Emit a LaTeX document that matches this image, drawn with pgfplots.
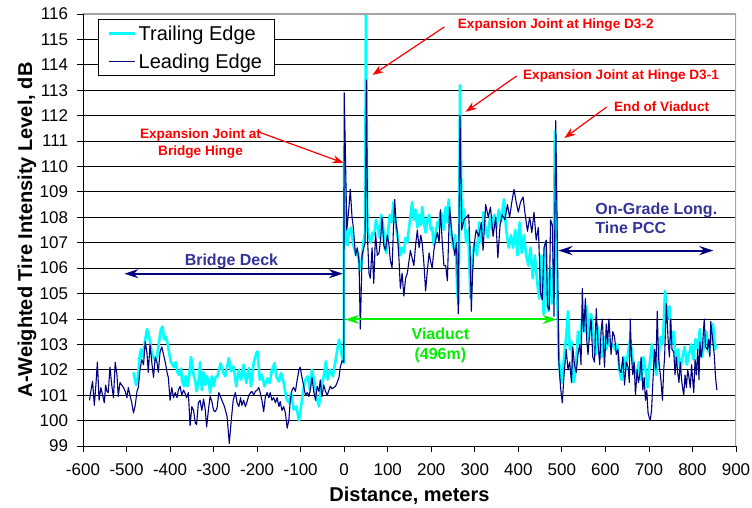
\documentclass[border=0pt]{standalone}
\usepackage{pgfplots}
\pgfplotsset{compat=1.18}
\usepackage{fontspec}
\setmainfont{Liberation Sans}
\usetikzlibrary{arrows.meta}
\definecolor{cyanL}{HTML}{00FFFF}
\definecolor{navyL}{HTML}{000080}
\definecolor{deckblue}{HTML}{333399}
\definecolor{vgreen}{HTML}{00F000}
\begin{document}
\begin{tikzpicture}[x=1pt,y=1pt]
\useasboundingbox (-83,-62) rectangle (669,446);
\begin{axis}[
 at={(0,0)}, anchor=south west,
 scale only axis, width=653pt, height=432pt,
 xmin=-600, xmax=900, ymin=99, ymax=116,
 xtick={-600,-500,...,900}, ytick={99,100,...,116},
 tick align=outside, major tick length=5.5pt,
 tick style={black, line width=0.8pt},
 xtick pos=bottom, ytick pos=left,
 ymajorgrids, grid style={black, line width=0.8pt},
 axis line style={draw=none},
 /pgf/number format/assume math mode=true,
 ticklabel style={font=\fontsize{17}{20}\selectfont},
 xticklabel style={yshift=-9pt},
 yticklabel style={xshift=-6pt},
 xlabel={Distance, meters},
 ylabel={A-Weighted Tire Intensity Level, dB},
 label style={font=\bfseries\fontsize{20}{24}\selectfont},
 x label style={at={(axis description cs:0.5,-0.115)}, anchor=center},
 y label style={at={(axis description cs:-0.0858,0.5)}, anchor=center},
 legend style={at={(0.0225,0.988)}, anchor=north west, draw=black, line width=0.8pt, fill=white,
   font=\fontsize{20}{24}\selectfont, inner xsep=10pt, inner ysep=4pt, row sep=8pt},
 legend cell align=left,
 legend image code/.code={\draw[#1] (0pt,0pt) -- (26pt,0pt);},
]
\addplot[cyanL, line width=2.6pt, line join=round] coordinates {
(-484,101.9)(-478,101.4)(-474,101.7)(-470,102.5)(-467,102.8)(-463,102.5)(-457,103.2)(-453,103.6)(-450,103.45)(-446,103.1)(-442,102.65)(-438,102.5)(-434,102.3)(-430,102.5)(-427,102.9)(-421,103.6)(-417,103.7)(-414,103.2)(-410,103.3)(-406,103.05)(-402,102.65)(-398,102.3)(-394,102.2)(-391,102.1)(-387,102.3)(-383,101.9)(-379,101.8)(-375,102.05)(-372,101.55)(-368,101.35)(-364,101.75)(-360,101.35)(-356,101.75)(-352,102.5)(-349,102.25)(-346,101.8)(-342,101.55)(-339,101.15)(-335,101.5)(-331,102.3)(-327,101.2)(-323,101.9)(-319,101.4)(-316,101.75)(-312,101.6)(-308,101.1)(-304,101.75)(-300,101.35)(-296,101.7)(-292,101.7)(-284,102.25)(-278,101.9)(-273,101.74)(-265,102.46)(-260,101.94)(-254,102.13)(-248,101.35)(-242,102.0)(-237,101.61)(-231,102.2)(-225,101.48)(-219,102.07)(-214,101.35)(-208,102.26)(-202,102.65)(-199,102.72)(-194,101.61)(-189,101.8)(-183,101.35)(-177,101.67)(-171,101.48)(-166,102.0)(-160,102.26)(-156,101.74)(-150,101.54)(-145,101.87)(-139,101.48)(-133,100.88)(-127,100.69)(-122,101.08)(-116,100.43)(-110,100.56)(-104,100.0)(-99,100.56)(-94,101.21)(-89,101.61)(-84,101.74)(-79,101.21)(-74,102.0)(-68,101.48)(-64,100.95)(-58,100.56)(-53,101.35)(-47,101.74)(-42,102.33)(-38,101.61)(-32,102.0)(-26,101.74)(-22,102.13)(-16,102.79)(-12,103.18)(-9,102.92)(-5,102.52)(-1,102.26)
(0,110.8)(4,107.0)(8,106.9)(12,107.5)(16,107.6)(20,107.0)(24,106.7)(28,106.5)(32,106.6)(36,105.9)(40,106.2)(44,107.0)(48,107.4)(50,116.8)(53,107.6)(57,107.2)(61,107.0)(65,107.4)(69,107.3)(73,107.9)(77,107.6)(81,107.2)(85,108.1)(89,107.7)(93,106.8)(97,106.6)(101,107.5)(105,108.1)(109,107.8)(113,108.6)(117,108.0)(121,107.4)(125,107.0)(129,106.5)(133,106.8)(137,106.6)(141,107.2)(145,107.0)(149,107.6)(152,108.0)(156,108.6)(160,107.9)(164,108.3)(168,107.6)(172,108.1)(176,107.7)(179,108.4)(183,107.8)(187,107.4)(191,107.9)(195,108.1)(199,107.5)(202,107.6)(206,106.9)(210,107.3)(214,107.8)(217,107.6)(221,108.2)(225,108.1)(229,107.5)(233,108.4)(237,107.8)(240,108.7)(245,107.5)(250,106.8)(255,107.3)(260,105.0)(263,104.6)(266,113.2)(270,107.8)(275,108.3)(280,107.0)(285,107.5)(290,104.8)(295,106.5)(300,107.0)(305,106.5)(310,107.8)(315,107.0)(320,108.2)(325,107.5)(330,107.2)(335,108.0)(340,107.5)(345,108.1)(350,107.6)(355,108.3)(360,107.8)(367,108.7)(372,107.5)(378,106.8)(383,107.3)(388,106.8)(393,107.5)(398,106.5)(403,107.8)(408,106.6)(413,107.3)(418,106.5)(423,106.1)(428,106.8)(433,105.6)(438,106.5)(443,105.5)(448,104.8)(453,106.5)(458,104.2)(463,107.0)(468,104.3)(473,106.0)(477,104.6)(481,106.0)(484,111.4)(488,106.0)(491,103.8)(493,102.5)(497,101.6)(501,101.5)(505,102.5)(510,103.3)(514,104.3)(518,102.8)(522,103.1)(527,101.5)(532,102.0)(537,103.5)(542,103.0)(547,104.2)(552,103.5)(557,104.5)(562,103.2)(567,104.2)(572,103.5)(577,102.6)(582,103.7)(587,103.0)(592,102.5)(597,103.3)(602,102.8)(607,103.2)(612,102.9)(617,103.0)(622,102.8)(627,103.0)(632,102.0)(637,101.6)(642,102.5)(647,102.0)(652,102.7)(657,103.2)(662,102.5)(667,102.0)(672,101.8)(677,102.3)(682,101.6)(687,102.5)(692,102.0)(697,101.3)(702,102.3)(707,103.0)(712,102.3)(717,101.8)(722,102.5)(727,103.3)(732,103.0)(737,105.1)(742,104.0)(747,104.5)(752,103.0)(757,103.5)(762,102.2)(767,102.8)(772,102.0)(777,102.5)(782,102.9)(787,102.2)(792,102.6)(797,103.0)(802,102.4)(807,103.2)(812,102.8)(817,103.6)(822,102.5)(827,103.0)(832,103.5)(837,102.7)(842,103.2)(847,103.8)(852,102.8)(855,103.0)
};
\addlegendentry{Trailing Edge}
\addplot[navyL, line width=1.1pt, line join=round] coordinates {
(-585,100.8)(-582,101.15)(-578,101.55)(-574,100.6)(-570,101.5)(-567,102.3)(-563,100.8)(-559,101.3)(-555,101.0)(-551,100.7)(-548,101.4)(-545,101.15)(-542,101.1)(-538,102.1)(-534,101.4)(-530,100.9)(-526,102.3)(-522,101.8)(-519,100.95)(-515,101.5)(-511,101.4)(-507,101.3)(-503,101.15)(-499,100.9)(-496,101.3)(-492,101.0)(-488,100.7)(-484,100.3)(-480,100.6)(-476,101.15)(-473,101.3)(-469,102.0)(-465,102.4)(-461,102.2)(-457,103.1)(-453,102.65)(-450,101.9)(-446,103.0)(-442,102.3)(-438,101.7)(-434,102.5)(-430,102.3)(-427,101.9)(-423,102.7)(-419,102.9)(-415,102.6)(-411,102.3)(-407,101.9)(-404,101.7)(-400,100.8)(-396,101.3)(-392,100.9)(-388,101.1)(-384,100.9)(-381,101.2)(-377,101.35)(-373,101.0)(-369,101.2)(-365,101.05)(-362,100.9)(-358,101.1)(-354,99.8)(-350,100.55)(-346,100.4)(-342,99.9)(-339,99.85)(-335,100.7)(-331,100.8)(-327,100.4)(-323,100.85)(-319,100.4)(-316,99.75)(-312,100.4)(-308,100.95)(-304,100.75)(-300,100.4)(-296,100.35)(-292,100.5)(-288,101.1)(-281,100.8)(-275,100.55)(-269,100.16)(-264,99.1)(-260,99.9)(-255,100.8)(-250,101.1)(-246,100.7)(-242,100.55)(-238,100.9)(-235,100.6)(-231,100.8)(-227,100.55)(-223,100.75)(-219,101.0)(-215,101.1)(-212,101.15)(-208,101.0)(-204,101.15)(-200,101.2)(-196,101.3)(-193,101.1)(-189,100.8)(-185,100.35)(-181,100.95)(-177,101.1)(-173,100.9)(-170,101.1)(-166,100.8)(-162,100.9)(-158,100.7)(-154,100.9)(-150,100.55)(-147,100.75)(-143,100.4)(-139,100.55)(-135,100.3)(-131,99.7)(-127,100.05)(-124,100.75)(-120,101.2)(-116,101.3)(-112,101.15)(-108,101.6)(-104,102.0)(-101,102.1)(-97,101.7)(-93,101.35)(-89,101.0)(-85,101.1)(-81,100.95)(-78,101.2)(-74,101.7)(-70,101.15)(-66,100.8)(-62,101.35)(-58,101.15)(-55,101.6)(-51,100.95)(-47,101.4)(-43,101.15)(-39,101.0)(-35,101.2)(-32,101.35)(-28,101.25)(-24,101.3)(-20,101.35)(-16,101.5)(-12,101.7)(-9,102.1)(-5,102.35)(-1,102.3)
(0,112.9)(3,110.3)(6,107.5)(10,108.2)(14,109.1)(18,108.0)(21,107.6)(26,106.5)(30,106.8)(34,106.3)(37,103.6)(41,106.5)(45,106.8)(48,107.0)(51,113.4)(54,107.0)(57,105.8)(60,105.6)(64,106.8)(68,105.4)(72,107.4)(76,106.5)(80,106.6)(84,107.2)(87,108.0)(91,106.9)(95,106.7)(99,107.3)(103,106.9)(106,106.3)(110,106.0)(113,107.5)(116,108.7)(119,107.8)(122,107.4)(126,106.3)(129,105.2)(133,105.8)(137,104.9)(141,105.6)(145,105.8)(149,106.3)(152,106.7)(156,106.4)(160,106.1)(164,106.9)(168,107.5)(172,106.8)(176,107.3)(179,107.0)(183,106.2)(187,105.1)(191,105.9)(195,106.6)(198,106.3)(202,106.0)(206,106.7)(210,107.1)(214,107.4)(218,107.0)(221,108.3)(225,107.1)(229,106.1)(233,106.1)(237,105.5)(242,108.4)(248,107.25)(254,106.5)(258,107.0)(262,104.2)(266,112.0)(270,107.5)(275,107.9)(280,108.0)(286,108.1)(289,106.8)(292,104.3)(295,105.8)(298,106.85)(303,107.5)(309,107.25)(315,107.8)(319,106.7)(325,108.5)(331,108.0)(336,108.4)(342,107.25)(348,108.0)(353,106.4)(358,107.7)(363,108.1)(369,107.9)(375,108.5)(380,108.0)(385,108.6)(390,109.1)(395,108.6)(400,108.2)(405,108.6)(411,108.8)(415,108.2)(421,107.45)(426,108.0)(431,107.4)(436,108.2)(441,107.1)(446,107.6)(451,105.0)(455,104.75)(459,106.8)(464,107.1)(467,104.5)(471,104.35)(474,107.9)(478,107.7)(482,104.1)(486,111.8)(490,106.5)(493,102.3)(497,101.3)(501,100.7)(505,101.8)(510,102.8)(514,102.0)(518,102.3)(522,101.5)(525,102.9)(529,102.2)(533,101.9)(537,102.6)(541,103.0)(544,102.2)(547,105.2)(550,103.5)(554,104.8)(557,103.2)(560,102.6)(564,103.5)(567,104.0)(571,102.5)(575,102.3)(579,104.4)(583,103.0)(587,102.2)(590,103.5)(593,104.0)(596,102.8)(598,102.1)(602,103.8)(605,103.0)(608,104.0)(611,103.2)(613,102.6)(617,103.5)(621,103.3)(625,102.6)(629,102.8)(632,102.0)(636,101.9)(640,102.5)(644,101.4)(648,102.3)(652,102.1)(655,101.5)(657,104.0)(660,102.5)(663,101.8)(666,102.3)(669,101.0)(673,102.0)(676,101.5)(679,101.8)(682,102.5)(686,101.2)(689,101.7)(692,100.8)(695,101.2)(698,100.3)(701,100.1)(703,100.0)(706,100.4)(709,101.5)(713,102.8)(716,102.0)(719,104.3)(722,102.5)(725,102.0)(728,101.5)(731,100.8)(734,102.0)(736,102.5)(740,104.6)(744,103.2)(747,102.5)(750,104.0)(753,102.8)(757,102.7)(760,101.8)(763,102.5)(766,101.9)(769,101.5)(772,102.3)(775,101.6)(778,101.2)(780,101.0)(783,101.8)(786,101.3)(789,102.0)(792,101.7)(795,101.3)(798,102.2)(801,101.5)(803,101.1)(806,102.4)(809,101.8)(812,102.8)(815,101.6)(817,103.1)(820,102.5)(823,102.9)(827,104.0)(830,102.9)(834,102.8)(837,103.2)(840,102.5)(842,103.9)(845,103.4)(848,102.9)(850,102.6)(853,101.7)(856,101.2)
};
\addlegendentry{Leading Edge}
% frame
\draw[gray!70, line width=1.4pt] (rel axis cs:0,1) -- (rel axis cs:1,1) -- (rel axis cs:1,0);
\draw[black, line width=0.9pt] (rel axis cs:0,1) -- (rel axis cs:0,0) -- (rel axis cs:1,0);
% annotations
\node[align=center, text=red, font=\bfseries\fontsize{13.6}{16.5}\selectfont] at (axis cs:-330,110.9) {Expansion Joint at\\Bridge Hinge};
\draw[red, line width=1.2pt, -{Stealth[length=11pt,width=8pt]}] (axis cs:-197,111.36) -- (axis cs:-1.6,110.14);
\node[anchor=west, text=red, font=\bfseries\fontsize{13.6}{16.5}\selectfont] at (axis cs:253,115.57) {Expansion Joint at Hinge D3-2};
\draw[red, line width=1.2pt, -{Stealth[length=11pt,width=8pt]}] (axis cs:230,115.49) -- (axis cs:65,113.6);
\node[anchor=west, text=red, font=\bfseries\fontsize{13.6}{16.5}\selectfont] at (axis cs:403,113.56) {Expansion Joint at Hinge D3-1};
\draw[red, line width=1.2pt, -{Stealth[length=11pt,width=8pt]}] (axis cs:396,113.56) -- (axis cs:279,112.15);
\node[anchor=west, text=red, font=\bfseries\fontsize{13.6}{16.5}\selectfont] at (axis cs:612,112.34) {End of Viaduct};
\draw[red, line width=1.2pt, -{Stealth[length=11pt,width=8pt]}] (axis cs:603,112.34) -- (axis cs:506,111.12);
\node[text=deckblue, font=\bfseries\fontsize{16}{19}\selectfont] at (axis cs:-259,106.25) {Bridge Deck};
\draw[navyL, line width=2pt, {Stealth[length=14pt,width=9pt]}-{Stealth[length=14pt,width=9pt]}] (axis cs:-505,105.78) -- (axis cs:-3,105.78);
\node[anchor=west, align=left, text=deckblue, font=\bfseries\fontsize{16}{19}\selectfont] at (axis cs:569,107.95) {On-Grade Long.\\Tine PCC};
\draw[navyL, line width=2pt, {Stealth[length=14pt,width=9pt]}-{Stealth[length=14pt,width=9pt]}] (axis cs:492,106.69) -- (axis cs:848,106.69);
\draw[vgreen, line width=2pt, {Stealth[length=14pt,width=9pt]}-{Stealth[length=14pt,width=9pt]}] (axis cs:2,103.98) -- (axis cs:488,103.98);
\node[align=center, text=vgreen, font=\bfseries\fontsize{16}{20}\selectfont] at (axis cs:221,102.95) {Viaduct\\(496m)};
\end{axis}
\end{tikzpicture}
\end{document}
